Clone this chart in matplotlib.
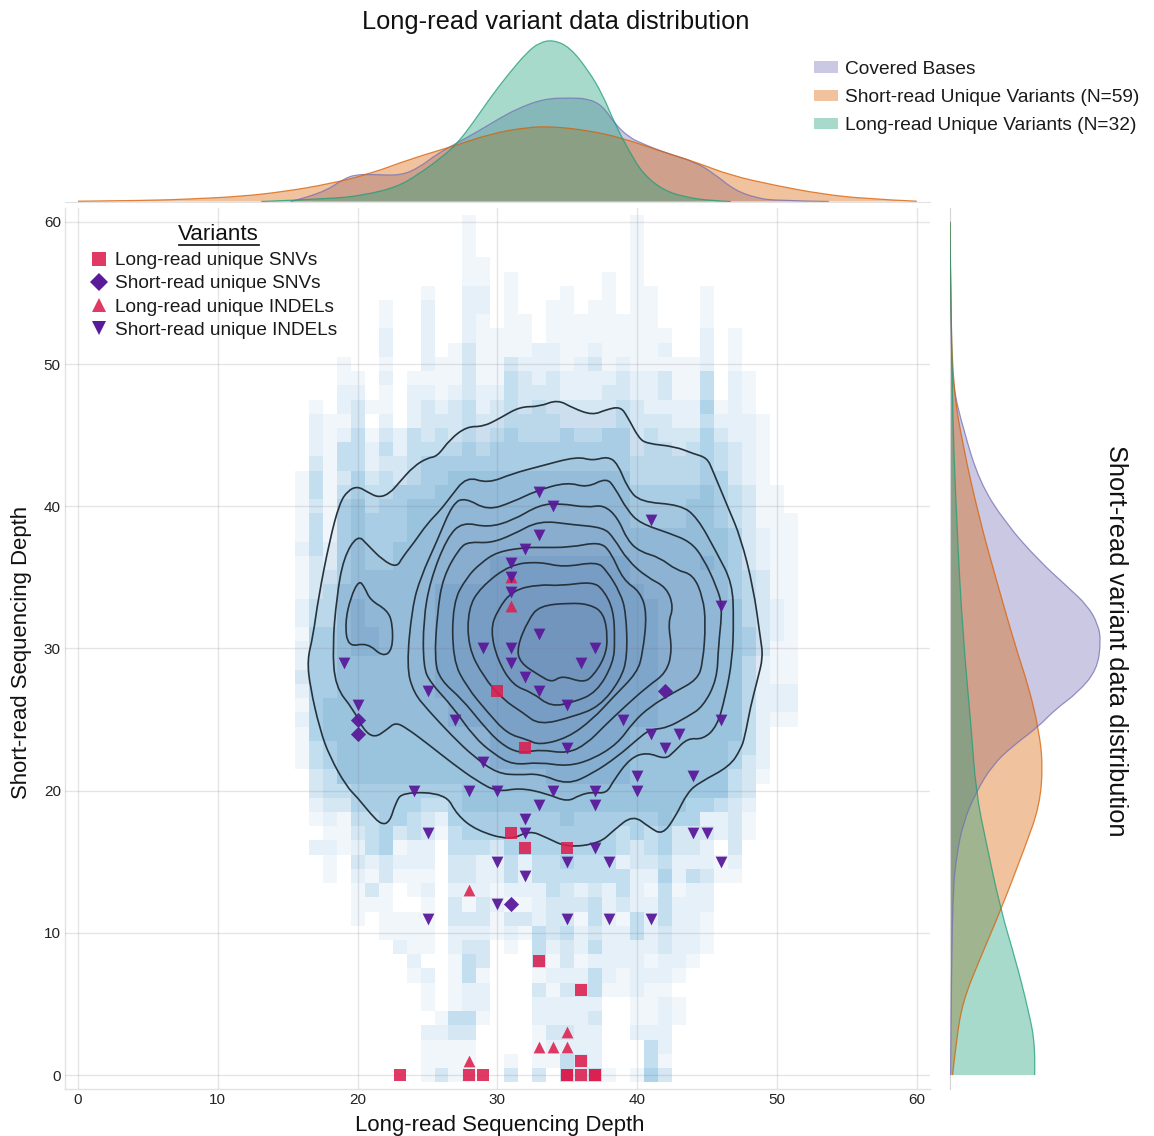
import numpy as np
import matplotlib
matplotlib.use("Agg")
import matplotlib.pyplot as plt
from matplotlib.colors import ListedColormap, BoundaryNorm
from matplotlib.path import Path
from matplotlib.patches import PathPatch, Patch
from matplotlib.lines import Line2D

plt.rcParams['font.family'] = ['Liberation Sans', 'DejaVu Sans']

W, H = 1154, 1136

# ---------- density levels per 1x1 depth bin; columns x=16..51, rows y=60..0 ----------
hist_x_first = 16
hist_levels = [
    "0000 0000000010 0000000000 1000000000 00",  # 60
    "0000 0000000010 0000000000 1000000000 00",
    "0000 0000000010 0000000000 1000000000 00",
    "0000 0000000011 0000000000 1000000000 00",
    "0000 0000000011 0100000010 1000000000 00",
    "0000 0000010022 0100010010 1100010000 00",  # 55
    "0000 0010020022 0100110110 1100010000 00",
    "0000 0010020021 0110111111 1100010000 00",
    "0000 0020020021 1110111111 1110020100 00",
    "0000 0020020131 1112211211 1120020100 00",
    "0001 0010021131 1322212312 1111120100 00",  # 50
    "0001 1020111131 1432322223 2231140210 00",
    "0002 2010221232 2433322233 2231140210 00",
    "0102 3110232342 3434333334 3222251210 00",
    "0211 3020233343 3444433334 3332242221 00",
    "0212 4132434343 4544454455 3433353221 00",  # 45
    "0214 4242444454 5555555555 3443454321 00",
    "0314 4233455555 5555555555 4444454321 00",
    "1413 5343455666 6666666666 4444455321 00",
    "1414 5445556666 6666666666 5555565431 10",
    "1315 6455666666 6666666666 5555665431 10",  # 40
    "1415 6555666666 6666666666 5555665431 11",
    "1415 6555666666 6666666666 6666666532 11",
    "2425 6556666666 6666666666 6666666532 11",
    "1325 6556666666 7777777777 6666676532 11",
    "1335 6666666666 7777777777 6666666543 11",  # 35
    "1346 6666667777 7777777777 7666666543 11",
    "2446 7666667777 7777777777 7766666643 21",
    "2446 7666667777 7777777777 7766666643 21",
    "1556 7766667777 7777777777 7766666653 21",
    "2556 7766667777 7777777777 7766666653 11",  # 30
    "2556 6666667777 7777777777 7766666642 11",
    "3556 6666667777 7777777777 7766666642 11",
    "2556 6666667777 7777777777 7766666642 22",
    "1566 6666666777 7777777777 7766666642 22",
    "2566 6666666777 7777777777 7766666642 11",  # 25
    "1566 6666666666 7777777777 6666666642 00",
    "1456 6666666666 7777777777 6666666542 00",
    "1456 6666666666 7777777777 6666666532 00",
    "0346 6666666666 6666777777 6666666431 00",
    "0344 5555555566 6666666666 6666666430 00",  # 20
    "0233 5555544566 6666666666 6666554320 00",
    "0121 4455432555 5555565555 5565522310 00",
    "0011 3453431455 5555555554 5453332310 00",
    "0221 2451220444 3555555554 3453320300 00",
    "0010 3232220332 2424454442 3342221200 00",  # 15
    "0010 2131110332 2424444444 2252431100 00",
    "0000 1310120222 1222432324 2141220000 00",
    "0000 1110010313 2112333423 2242220000 00",
    "0000 1011110333 1332331421 4242210000 00",
    "0000 0011110222 1214342322 4232210000 00",  # 10
    "0000 0002110233 0104232422 2232210000 00",
    "0000 0000200143 0004131222 2122100000 00",
    "0000 0000120141 0001222421 2221000000 00",
    "0000 0000010122 0003133411 2110000000 00",
    "0000 0000010122 0002222200 1121000000 00",  # 5
    "0000 0000001441 0002222300 1121000000 00",
    "0000 0000022330 0001332200 2220000000 00",
    "0000 0000011110 0001222200 0420000000 00",
    "0000 0000011110 0101143200 0410000000 00",
    "0000 0000013120 0303043410 1530000000 00",  # 0
]

# ---------- density contours (long-read depth, short-read depth) ----------
c1_x = [16.4,16.8,17.2,18.0,18.7,19.3,20.0,20.7,21.5,22.3,23.0,24.0,25.0,25.7,26.6,27.8,29.0,30.2,31.6,33.0,34.3,35.4,36.8,37.8,38.8,39.3,40.1,40.7,42.7,44.0,45.0,45.4,46.5,47.4,48.3,48.8,49.0,48.6,48.1,47.7,47.4,46.6,44.5,43.6,42.7,41.8,40.9,39.7,38.3,37.3,35.0,33.5,32.3,30.9,28.5,27.1,26.3,23.2,22.7,22.3,21.7,20.9,20.0,19.2,18.0,17.3,16.6]
c1_y = [29.2,30.8,33.6,37.6,40.2,41.1,41.4,41.0,40.6,40.9,41.7,42.8,43.4,43.5,44.7,45.6,45.6,46.2,47.0,47.0,47.5,46.9,46.4,46.8,47.0,46.3,44.8,44.4,44.2,43.7,43.4,42.5,39.9,37.8,34.3,30.8,29.4,27.8,25.9,23.8,22.9,21.7,20.6,19.9,18.1,16.9,17.4,18.3,17.2,16.3,16.0,16.7,17.2,16.5,17.2,18.3,19.8,19.9,19.1,17.8,17.6,18.4,19.5,20.3,22.4,24.3,27.3]
c2_x = [18.2,18.5,19.0,20.0,20.7,21.8,22.8,23.2,24.0,25.0,25.9,26.6,27.8,29.3,31.1,33.0,35.7,36.8,37.9,38.6,39.3,40.2,43.1,44.3,45.7,46.8,46.9,46.8,46.3,45.7,44.7,43.6,42.6,42.0,40.7,39.5,38.3,37.8,36.8,35.9,35.0,33.5,31.6,30.0,28.5,26.8,25.0,23.5,22.7,22.1,21.2,20.4,19.7,18.4]
c2_y = [30.1,33.6,36.4,38.0,37.3,36.2,35.7,36.4,37.4,38.8,39.7,40.6,42.1,41.6,42.3,42.8,43.5,43.2,43.5,43.0,41.3,40.3,40.1,39.2,36.7,34.6,32.0,29.2,26.6,24.5,23.6,23.7,22.7,22.2,22.7,22.3,20.7,19.8,19.9,19.7,19.2,19.8,20.2,19.9,20.7,21.9,23.3,24.4,24.8,24.3,23.7,24.3,25.7,27.3]
blob_x = [20.1,19.5,19.1,19.3,20.7,21.8,22.5,22.5,22.1,20.9,20.5]
blob_y = [34.8,33.6,31.8,30.1,30.4,29.4,29.9,31.8,32.7,33.4,34.3]
c3_x = [23.5,23.9,24.5,25.7,26.8,27.7,29.3,31.1,32.8,35.0,36.4,37.8,38.4,39.3,40.2,42.3,43.8,44.7,45.7,46.1,45.8,45.7,44.7,43.6,42.1,40.9,40.0,38.6,36.8,35.0,33.0,31.6,30.0,28.3,26.8,25.0,24.0]
c3_y = [28.7,32.9,35.0,37.6,40.2,40.6,39.7,40.3,41.1,41.7,41.3,42.0,41.3,39.7,38.8,38.1,37.5,36.4,34.3,32.9,30.1,27.8,25.9,25.2,24.4,24.3,23.6,22.4,21.2,20.4,21.2,21.1,21.2,22.4,23.8,25.7,26.9]
c4_x = [24.7,24.7,25.2,26.4,27.5,29.3,31.1,33.0,34.5,36.4,37.6,38.6,39.3,40.2,41.6,42.8,44.0,44.7,44.9,44.7,44.3,42.6,40.9,39.7,38.6,36.8,35.0,33.0,31.1,29.7,28.3,26.8,25.2]
c4_y = [28.7,32.0,34.8,37.8,38.9,38.5,39.0,40.1,40.2,39.9,40.1,39.2,37.6,36.8,36.4,35.5,35.2,33.6,31.8,29.0,27.8,26.9,25.9,24.8,23.3,22.2,21.7,22.0,21.8,22.6,23.8,25.9,27.6]
c5_x = [25.5,25.7,26.1,27.3,28.0,29.5,31.1,33.0,35.4,37.6,38.3,39.3,40.7,42.1,42.6,42.2,42.5,42.1,40.7,39.1,37.6,36.4,35.0,33.0,31.6,30.2,28.8,27.5,25.9]
c5_y = [29.2,32.5,35.0,37.1,37.5,37.4,38.0,39.0,38.7,38.5,37.8,36.2,35.0,34.3,32.9,31.8,29.9,28.3,27.3,25.9,24.5,23.3,22.6,22.9,22.6,23.3,24.8,26.4,27.8]
c6_x = [26.8,26.8,27.8,28.8,30.0,32.0,33.0,35.2,37.3,38.1,39.0,40.2,40.7,40.4,40.0,38.3,36.8,35.0,33.0,32.1,30.7,29.3,27.8]
c6_y = [29.2,33.2,35.0,36.0,36.8,37.1,37.1,37.1,37.5,36.8,34.8,34.0,32.5,29.7,28.3,26.6,25.0,23.7,23.2,23.6,24.0,25.5,27.3]
c7_x = [27.9,27.9,28.8,30.9,33.0,34.7,37.1,37.8,38.8,39.2,39.3,38.8,37.3,35.4,33.0,31.8,30.4,29.0]
c7_y = [30.1,32.8,34.3,35.9,36.1,35.7,36.1,35.5,33.9,32.5,29.4,27.8,25.9,25.2,24.6,25.5,26.4,28.0]
c8_x = [29.5,30.0,31.1,33.0,34.5,36.8,37.6,38.3,38.4,38.3,37.1,35.4,33.8,32.5,31.1,30.0]
c8_y = [31.3,32.7,34.1,34.5,34.4,34.7,34.1,32.7,30.6,29.0,26.9,26.2,25.9,26.9,27.4,29.2]
c9_x = [31.4,32.2,33.0,35.2,36.6,37.6,37.9,37.7,36.8,36.1,34.6,33.9,33.0,31.6]
c9_y = [30.1,32.0,33.0,33.2,33.1,32.5,30.8,29.4,28.0,27.6,28.1,27.6,28.1,29.0]

# ---------- variants ----------
lr_snv_x = [30,32,31,32,35,33,36,36,23,28,29,35,35,36,37,37]
lr_snv_y = [27,23,17,16,16,8,6,1,0,0,0,0,0,0,0,0]
sr_snv_x = [42,20,20,31]
sr_snv_y = [27,25,24,12]
lr_indel_x = [31,31,28,35,33,34,35,28]
lr_indel_y = [35,33,13,3,2,2,2,1]
sr_indel_x = [33,34,41,33,32,31,31,31,46,33,37,29,31,31,36,32,19,20,25,33,35,27,39,46,41,43,42,35,29,40,44,
              24,28,30,34,37,40,33,37,32,25,32,44,45,37,30,35,38,46,32,30,25,35,38,41]
sr_indel_y = [41,40,39,38,37,36,35,34,33,31,30,30,30,29,29,28,29,26,27,27,26,25,25,25,24,24,23,23,22,21,21,
              20,20,20,20,20,20,19,19,18,17,17,17,17,16,15,15,15,15,14,12,11,11,11,11]

# ---------- marginal densities (relative height) ----------
cov_top_x = [15.2,17.4,19.0,19.9,21.2,23.1,24.4,25.7,27.0,28.5,30.1,31.4,33.3,35.2,36.5,37.5,38.4,39.4,40.4,41.9,44.2,45.5,47.0,48.6,49.9,53.7]
cov_top_h = [0,7.7,22.7,27,27,26,34,47.7,57.7,69.3,82.7,92.7,102.7,103.7,102.7,96,77.7,64.3,57.7,49.3,39.3,27.7,11,3.3,1,0]
short_top_x = [0,5,8,11.6,14.8,18.0,20.9,23.8,27.0,29.5,32.1,34.0,36.5,38.9,41.9,44.2,46.7,49.9,53.1,56.3,60]
short_top_h = [0.3,1,2.5,5,10,17.7,27.7,42.7,56,67.7,74.3,75,71,63.7,49.3,39.3,26,16,7.7,2.7,0.3]
long_top_x = [13.1,18.0,20.3,22.8,24.4,26.0,27.1,28.2,29.5,30.8,32.1,33.0,34.0,35.2,36.5,37.5,38.4,39.4,40.4,41.9,43.5,45.1,46.7]
long_top_h = [0,2.7,6,14.3,27.7,44,57.7,77.7,104,127.7,149,159,161.7,154,131,107.7,77.7,51,27.7,11,4.3,1,0]

cov_right_y = [60,52,48.4,45.5,41.7,38.8,36.2,34.3,33.0,31.7,30.5,28.5,26.9,25.7,24.5,23.1,21.8,19.9,17.7,15.4,13.2,8.4,0]
cov_right_h = [0,0.8,3,13,29.5,55.7,88.5,118,137.7,148,151,147,128,105,88.5,62,42.6,26,13,6.6,3.3,1.6,0.5]
short_right_y = [60,55,48.4,44.2,39.1,34.9,30.1,27.3,24.4,21.8,18.9,16.1,11.6,8.1,5.2,2.6,0]
short_right_h = [0,0.5,3,13,29.5,46,65.6,78.7,88.5,93,89.5,75.4,50.8,29.5,13,6.6,2.6]
long_right_y = [60,48.4,38.8,30.8,24.4,19.9,16.4,11.6,8.1,4.5,2.0,0]
long_right_h = [0,1.6,6.6,13,21.3,26,36,50.8,65.6,78.7,85.5,84.6]

ticks = [0,10,20,30,40,50,60]
legend_variants = ["Long-read unique SNVs","Short-read unique SNVs","Long-read unique INDELs","Short-read unique INDELs"]
legend_kde = ["Covered Bases","Short-read Unique Variants (N=59)","Long-read Unique Variants (N=32)"]


# ---------- helpers ----------
def rect(l, t, r, b):
    return [l/W, 1-b/H, (r-l)/W, (b-t)/H]

def open_curve(xs, ys):
    """Quadratic spline through the mid-points; the ends are kept."""
    pts = list(zip(xs, ys))
    verts, codes = [pts[0]], [Path.MOVETO]
    for i in range(1, len(pts)-1):
        mid = ((pts[i][0]+pts[i+1][0])/2, (pts[i][1]+pts[i+1][1])/2)
        if i == len(pts)-2:
            mid = pts[i+1]
        verts += [pts[i], mid]
        codes += [Path.CURVE3, Path.CURVE3]
    return verts, codes

def closed_curve(xs, ys):
    pts = list(zip(xs, ys))
    n = len(pts)
    mid = lambda a, b: ((a[0]+b[0])/2, (a[1]+b[1])/2)
    verts, codes = [mid(pts[-1], pts[0])], [Path.MOVETO]
    for i in range(n):
        verts += [pts[i], mid(pts[i], pts[(i+1) % n])]
        codes += [Path.CURVE3, Path.CURVE3]
    return Path(verts, codes)

def kde_patch(ax, xs, ys, col, horizontal=True):
    v, c = open_curve(xs, ys)
    if horizontal:
        v2 = v + [(xs[-1], 0), (xs[0], 0), (xs[0], 0)]
    else:
        v2 = v + [(0, ys[-1]), (0, ys[0]), (0, ys[0])]
    c2 = c + [Path.LINETO, Path.LINETO, Path.CLOSEPOLY]
    ax.add_patch(PathPatch(Path(v2, c2), facecolor=col, alpha=0.38, edgecolor='none', zorder=2))
    ax.add_patch(PathPatch(Path(v, c), facecolor='none', edgecolor=col, alpha=0.75, lw=0.9, zorder=3))


fig = plt.figure(figsize=(W/100, H/100), dpi=100)
ax = fig.add_axes(rect(65, 208, 930, 1089))
ax_top = fig.add_axes(rect(65, 30, 930, 201.5))
ax_right = fig.add_axes(rect(950, 208, 1110, 1089))

xlim = (-0.93, 60.94)
ylim = (-0.98, 60.97)

# ---------- heat map ----------
grid = np.array([[int(c) for c in r.replace(" ", "")] for r in hist_levels], dtype=float)[::-1]
xe = np.arange(grid.shape[1]+1) + hist_x_first - 0.5
ye = np.arange(grid.shape[0]+1) - 0.5
cols = ['#ffffff', '#f1f6fb', '#e6f0f8', '#d5e7f3', '#c2deef', '#afd4e9', '#9fc9e3', '#91bedd']
cmap = ListedColormap(cols)
norm = BoundaryNorm(np.arange(-0.5, 8.5), cmap.N)
ax.pcolormesh(xe, ye, np.ma.masked_equal(grid, 0), cmap=cmap, norm=norm, zorder=1, linewidth=0)

# ---------- contours ----------
contours = [(c1_x,c1_y),(c2_x,c2_y),(blob_x,blob_y),(c3_x,c3_y),(c4_x,c4_y),(c5_x,c5_y),(c6_x,c6_y),(c7_x,c7_y),(c8_x,c8_y),(c9_x,c9_y)]
for cx, cy in contours:
    p = closed_curve(cx, cy)
    ax.add_patch(PathPatch(p, facecolor=(0.30,0.38,0.60), alpha=0.055, edgecolor='none', zorder=2))
for cx, cy in contours:
    ax.add_patch(PathPatch(closed_curve(cx, cy), facecolor='none', edgecolor='#26323c', lw=1.2, zorder=3))

# ---------- variants ----------
red = '#dc1f4e'
pur = '#5a1a9a'
ax.scatter(lr_snv_x, lr_snv_y, marker='s', s=68, color=red, alpha=0.88, linewidths=0, zorder=4)
ax.scatter(sr_snv_x, sr_snv_y, marker='D', s=60, color=pur, alpha=0.95, linewidths=0, zorder=4)
ax.scatter(lr_indel_x, lr_indel_y, marker='^', s=72, color=red, alpha=0.88, linewidths=0, zorder=4)
ax.scatter(sr_indel_x, sr_indel_y, marker='v', s=72, color=pur, alpha=0.95, linewidths=0, zorder=4)

ax.set_xlim(*xlim); ax.set_ylim(*ylim)
ax.set_xticks(ticks); ax.set_yticks(ticks)
ax.set_axisbelow(False)
ax.grid(True, color=(0.45,0.45,0.5), alpha=0.18, lw=1.0)
ax.tick_params(length=0, labelsize=11, pad=3, colors='#222222')
for s in ('top', 'right'):
    ax.spines[s].set_visible(False)
for s in ('left', 'bottom'):
    ax.spines[s].set_color('#e2e2e2')
    ax.spines[s].set_linewidth(1.0)
fig.text(500/W, 1-1125/H, "Long-read Sequencing Depth", fontsize=15.9, ha='center', va='center', color='#111111')
fig.text(22/W, 1-652/H, "Short-read Sequencing Depth", fontsize=15.9, rotation=90, ha='center', va='center', color='#111111')

# ---------- marginals ----------
c_cov, c_short, c_long = '#7570b3', '#d95f02', '#1b9e77'
kde_patch(ax_top, cov_top_x, cov_top_h, c_cov)
kde_patch(ax_top, short_top_x, short_top_h, c_short)
kde_patch(ax_top, long_top_x, long_top_h, c_long)
ax_top.set_xlim(*xlim); ax_top.set_ylim(0, 171.5)
ax_top.set_xticks([]); ax_top.set_yticks([])
for s in ('top', 'right', 'left'):
    ax_top.spines[s].set_visible(False)
ax_top.spines['bottom'].set_color('#e2e2e2')
ax_top.patch.set_alpha(0)

kde_patch(ax_right, cov_right_h, cov_right_y, c_cov, horizontal=False)
kde_patch(ax_right, short_right_h, short_right_y, c_short, horizontal=False)
kde_patch(ax_right, long_right_h, long_right_y, c_long, horizontal=False)
ax_right.set_xlim(0, 160); ax_right.set_ylim(*ylim)
ax_right.set_xticks([]); ax_right.set_yticks([])
for s in ('top', 'right', 'bottom'):
    ax_right.spines[s].set_visible(False)
ax_right.spines['left'].set_color('#d5d5d5')
ax_right.patch.set_alpha(0)

# ---------- texts ----------
fig.text(555.5/W, 1-22/H, "Long-read variant data distribution", fontsize=18.3, ha='center', va='center', color='#111111')
fig.text(1116/W, 1-641/H, "Short-read variant data distribution", fontsize=18.3, rotation=-90, ha='center', va='center', color='#111111')

# ---------- legends ----------
h1 = [Line2D([], [], ls='', marker='s', ms=10, color=red, alpha=0.88, mew=0),
      Line2D([], [], ls='', marker='D', ms=9.5, color=pur, mew=0),
      Line2D([], [], ls='', marker='^', ms=10, color=red, alpha=0.88, mew=0),
      Line2D([], [], ls='', marker='v', ms=10, color=pur, mew=0)]
fig.legend(h1, legend_variants, loc='upper left', bbox_to_anchor=(87/W, 1-252/H), bbox_transform=fig.transFigure,
           frameon=False, fontsize=13.65, labelspacing=0.31, handletextpad=0.2, handlelength=1.3,
           borderpad=0, borderaxespad=0, labelcolor='#1a1a1a')
fig.text(218.5/W, 1-234/H, "Variants", fontsize=16.1, ha='center', va='center', color='#111111')
fig.add_artist(Line2D([179/W, 259/W], [1-245/H, 1-245/H], color='#222222', lw=1.3))

h2 = [Patch(facecolor=c_cov, alpha=0.38, edgecolor='none'),
      Patch(facecolor=c_short, alpha=0.38, edgecolor='none'),
      Patch(facecolor=c_long, alpha=0.38, edgecolor='none')]
fig.legend(h2, legend_kde, loc='upper left', bbox_to_anchor=(814/W, 1-61/H), bbox_transform=fig.transFigure,
           frameon=False, fontsize=13.8, labelspacing=0.58, handletextpad=0.35, handlelength=1.25, handleheight=0.55,
           borderpad=0, borderaxespad=0, labelcolor='#1a1a1a')

fig.savefig("out.png", dpi=100, facecolor='white')
